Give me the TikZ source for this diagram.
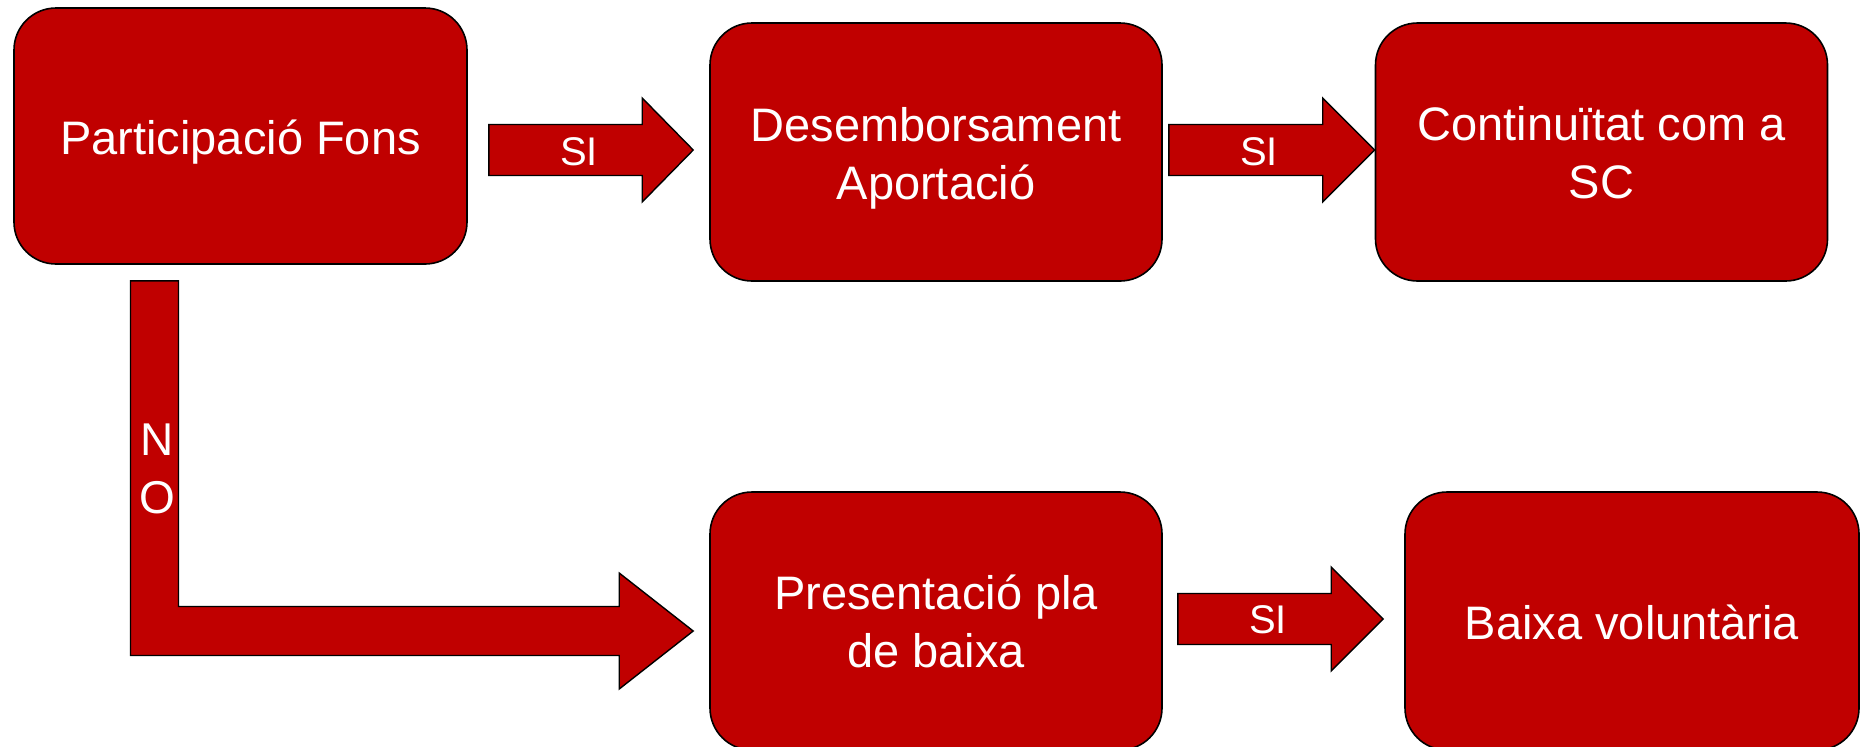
\documentclass[tikz,border=0pt]{standalone}
\usepackage{fontspec}
\setmainfont{Liberation Sans}
\usetikzlibrary{calc}
\definecolor{boxred}{RGB}{192,0,0}
\newcommand\boxtext[2][-3.2pt]{\raisebox{#1}[\height][\depth]{\begin{tabular}{@{}c@{}}#2\end{tabular}}}
\tikzset{
  stepbox/.style={draw=black, line width=0.8pt, fill=boxred, rounded corners=21pt,
    minimum width=226pt, minimum height=129pt, inner sep=0pt, align=center,
    text=white, font=\fontsize{23.5}{29}\selectfont},
  blockarrow/.style={draw=black, line width=0.7pt, fill=boxred},
  arrowlabel/.style={text=white, font=\fontsize{20}{24}\selectfont, inner sep=0pt},
  nolabel/.style={text=white, font=\fontsize{23}{29}\selectfont, inner sep=0pt, align=center}
}
\begin{document}
\begin{tikzpicture}[x=0.5pt,y=-0.5pt]
\useasboundingbox (0,0) rectangle (1867,746);
% boxes
\node[stepbox, minimum width=226.5pt, minimum height=128pt] (b1) at (240.5,136) {\boxtext[-3.5pt]{Participació Fons}};
\node[stepbox] (b2) at (936,152) {\boxtext{Desemborsament\\Aportació}};
\node[stepbox] (b3) at (1601.5,152) {\boxtext[-3pt]{Continuïtat com a\\SC}};
\node[stepbox] (b4) at (936,621) {\boxtext[-3pt]{Presentació pla\\de baixa}};
\node[stepbox, minimum width=227pt] (b5) at (1632,621) {\boxtext[-3.6pt]{Baixa voluntària}};
% arrow b1 -> b2
\draw[blockarrow] let \p1=(b1.east), \p2=(b2.west) in
  (\x1+10.5pt,\y2+13.75pt) -- (\x2-33.5pt,\y2+13.75pt) -- (\x2-33.5pt,\y2+27pt)
  -- (\x2-8pt,\y2+1pt) -- (\x2-33.5pt,\y2-25pt) -- (\x2-33.5pt,\y2-11.75pt)
  -- (\x1+10.5pt,\y2-11.75pt) -- cycle;
% arrow b2 -> b3
\draw[blockarrow] let \p1=(b2.east), \p2=(b3.west) in
  (\x1+3pt,\y2+13.75pt) -- (\x2-26pt,\y2+13.75pt) -- (\x2-26pt,\y2+27pt)
  -- (\x2,\y2+1pt) -- (\x2-26pt,\y2-25pt) -- (\x2-26pt,\y2-11.75pt)
  -- (\x1+3pt,\y2-11.75pt) -- cycle;
% arrow b4 -> b5
\draw[blockarrow] let \p1=(b4.east), \p2=(b5.west) in
  (\x1+7.5pt,\y2+13.75pt) -- (\x2-36.5pt,\y2+13.75pt) -- (\x2-36.5pt,\y2+27pt)
  -- (\x2-10.5pt,\y2+1pt) -- (\x2-36.5pt,\y2-25pt) -- (\x2-36.5pt,\y2-11.75pt)
  -- (\x1+7.5pt,\y2-11.75pt) -- cycle;
% bent arrow b1 -> b4
\draw[blockarrow] let \p1=(b1.south), \p2=(b4.west) in
  (\x1-55pt,\y1-8pt) -- (\x1-31pt,\y1-8pt) -- (\x1-31pt,\y2+7.25pt)
  -- (\x2-45pt,\y2+7.25pt) -- (\x2-45pt,\y2+24pt) -- (\x2-8pt,\y2-5pt)
  -- (\x2-45pt,\y2-34pt) -- (\x2-45pt,\y2-17.25pt) -- (\x1-55pt,\y2-17.25pt) -- cycle;
% labels
\node[arrowlabel] (s1) at (579,152) {SI};
\node[arrowlabel] (s2) at (1259,152) {SI};
\node[arrowlabel] (s3) at (1268,620) {SI};
\node[nolabel] (no) at (157,469) {N\\O};
\end{tikzpicture}
\end{document}
